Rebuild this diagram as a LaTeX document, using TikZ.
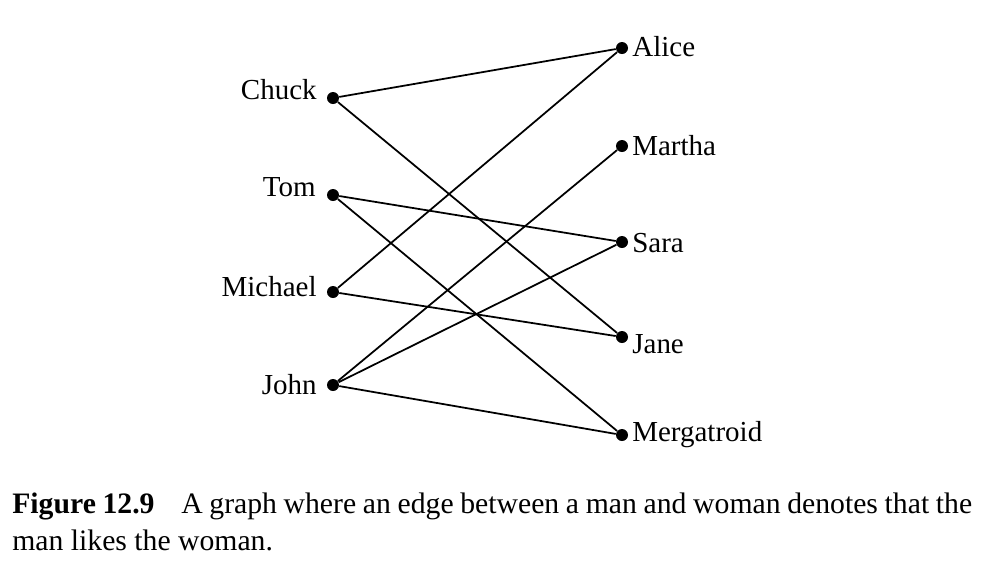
\documentclass[tikz,border=0pt]{standalone}
\usepackage{fontspec}
\setmainfont{Liberation Serif}

\begin{document}
\begin{tikzpicture}[x=0.02cm,y=-0.02cm,
    dot/.style={circle,fill=black,inner sep=0pt,minimum size=0.24cm},
    person/.style={font=\fontsize{16.5}{19}\selectfont,inner sep=0pt},
    edge/.style={line width=1pt}]
    \useasboundingbox (0,0) rectangle (992,576);

    % 男
    \node[dot] (chuck) at (333,98) {};
    \node[dot] (tom) at (333,195) {};
    \node[dot] (michael) at (333,292) {};
    \node[dot] (john) at (333,385) {};
    \node[person,anchor=east] (lchuck) at (317,90) {Chuck};
    \node[person,anchor=east] (ltom) at (316,187) {Tom};
    \node[person,anchor=east] (lmichael) at (317,287) {Michael};
    \node[person,anchor=east] (ljohn) at (317,385) {John};

    % 女
    \node[dot] (alice) at (622,48) {};
    \node[dot] (martha) at (622,146) {};
    \node[dot] (sara) at (622,242) {};
    \node[dot] (jane) at (622,337) {};
    \node[dot] (merga) at (622,435) {};
    \node[person,anchor=west] (lalice) at (632,47) {Alice};
    \node[person,anchor=west] (lmartha) at (632,146) {Martha};
    \node[person,anchor=west] (lsara) at (632,243) {Sara};
    \node[person,anchor=west] (ljane) at (632,344) {Jane};
    \node[person,anchor=west] (lmerga) at (632,435) {Mergatroid};

    % 边
    \foreach \a/\b in {chuck/alice,chuck/jane,tom/sara,tom/merga,
                       michael/alice,michael/jane,
                       john/martha,john/sara,john/merga}
    \draw[edge] (\a) -- (\b);

    % 图题
    \node[anchor=north west,inner sep=0pt,text width=19.2cm,align=justify,
          font=\fontsize{16.9}{21}\selectfont] (caption) at (12,493)
      {\textbf{Figure 12.9}\hspace{0.9em}A graph where an edge between a man and woman denotes that the man likes the woman.};
  \end{tikzpicture}
\end{document}
